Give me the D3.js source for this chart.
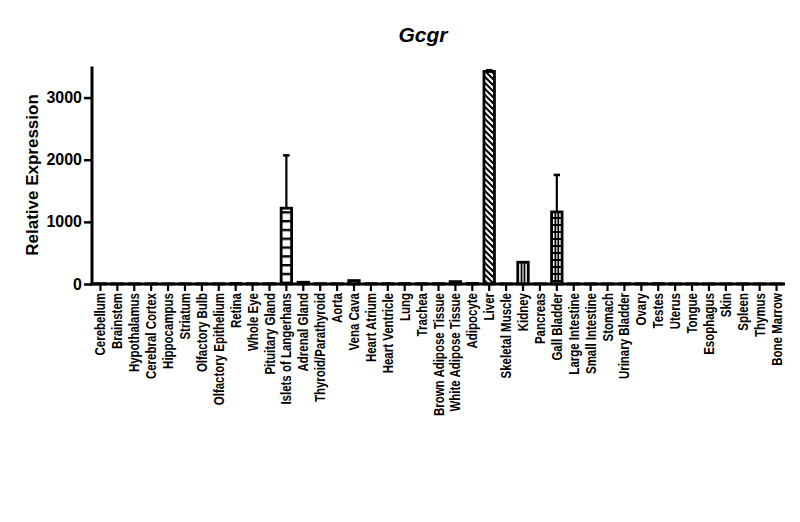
<!DOCTYPE html>
<html>
<head>
<meta charset="utf-8">
<script src="https://cdn.jsdelivr.net/npm/d3@7"></script>
<style>
  body { margin: 0; background: #fff; }
  svg { display: block; font-family: "Liberation Sans", Arial, sans-serif; }
</style>
</head>
<body>
<svg id="chart" width="800" height="522"></svg>
<script>
const categories = ["Cerebellum","Brainstem","Hypothalamus","Cerebral Cortex","Hippocampus","Striatum","Olfactory Bulb","Olfactory Epithelium","Retina","Whole Eye","Pituitary Gland","Islets of Langerhans","Adrenal Gland","Thyroid/Parathyroid","Aorta","Vena Cava","Heart Atrium","Heart Ventricle","Lung","Trachea","Brown Adipose Tissue","White Adipose Tissue","Adipocyte","Liver","Skeletal Muscle","Kidney","Pancreas","Gall Bladder","Large Intestine","Small Intestine","Stomach","Urinary Bladder","Ovary","Testes","Uterus","Tongue","Esophagus","Skin","Spleen","Thymus","Bone Marrow"];
const values = [4,3,3,3,3,3,3,3,8,4,5,1220,28,5,4,55,5,5,6,5,5,38,8,3420,3,350,3,1160,3,3,3,5,4,6,3,3,3,3,3,3,3];
const errors = [0,0,0,0,0,0,0,0,0,0,0,850,0,0,0,0,0,0,0,0,0,0,0,20,0,0,0,595,0,0,0,0,0,0,0,0,0,0,0,0,0];
const yTicks = [0,1000,2000,3000];
const title = "Gcgr";
const yLabel = "Relative Expression";

const patternOf = {"Islets of Langerhans":"hlines","Liver":"diag","Kidney":"vline","Gall Bladder":"grid","Vena Cava":"dots"};

(function(){
const svg = d3.select("#chart");
const mLeft = 92, mRight = 785, mTop = 66.5, mBottom = 284;

const x = d3.scaleBand().domain(categories).range([mLeft, mRight]).paddingInner(0.38).paddingOuter(0.19);
const y = d3.scaleLinear().domain([0, 3500]).range([mBottom, mTop]);

// patterns
const defs = svg.append("defs");
const bw = x.bandwidth();
const ph = defs.append("pattern").attr("id","hlines").attr("patternUnits","userSpaceOnUse").attr("width",20).attr("height",8.8);
ph.append("rect").attr("width",20).attr("height",8.8).attr("fill","#fff");
ph.append("rect").attr("y",0).attr("width",20).attr("height",2.4).attr("fill","#000");

const pd = defs.append("pattern").attr("id","diag").attr("patternUnits","userSpaceOnUse").attr("width",6).attr("height",6);
pd.append("rect").attr("width",6).attr("height",6).attr("fill","#fff");
pd.append("path").attr("d","M-1,-1 L7,7 M-4,2 L2,8 M4,-2 L8,2").attr("stroke","#000").attr("stroke-width",2);

const pv = defs.append("pattern").attr("id","vline").attr("patternUnits","userSpaceOnUse").attr("width",20).attr("height",20);
pv.append("rect").attr("width",20).attr("height",20).attr("fill","#fff");

const pg = defs.append("pattern").attr("id","grid").attr("patternUnits","userSpaceOnUse").attr("width",20).attr("height",7);
pg.append("rect").attr("width",20).attr("height",7).attr("fill","#fff");
pg.append("rect").attr("y",0).attr("width",20).attr("height",2).attr("fill","#000");

const pdots = defs.append("pattern").attr("id","dots").attr("patternUnits","userSpaceOnUse").attr("width",3).attr("height",3);
pdots.append("rect").attr("width",3).attr("height",3).attr("fill","#fff");
pdots.append("rect").attr("width",1.5).attr("height",1.5).attr("fill","#000");

const data = categories.map((c,i)=>({c, v: values[i], e: errors[i]}));

// error bars (one-sided, upward)
const eb = svg.append("g").attr("stroke","#000").attr("stroke-width",2.2);
data.filter(d=>d.e>0).forEach(d=>{
  const cx = x(d.c) + bw/2;
  eb.append("line").attr("x1",cx).attr("x2",cx).attr("y1",y(d.v)).attr("y2",y(d.v+d.e));
  eb.append("line").attr("x1",cx-3.2).attr("x2",cx+3.2).attr("y1",y(d.v+d.e)).attr("y2",y(d.v+d.e)).attr("stroke-width",2.6);
});

// bars
const bars = svg.append("g");
data.forEach(d=>{
  const pat = patternOf[d.c];
  const x0 = x(d.c), y0 = y(d.v), h = y(0) - y(d.v);
  bars.append("rect")
    .attr("x", x0).attr("y", y0).attr("width", bw).attr("height", h)
    .attr("fill", pat ? `url(#${pat})` : "#fff")
    .attr("stroke","#000").attr("stroke-width",2.8);
  if (pat === "vline" || pat === "grid") {
    [bw*0.36, bw*0.64].forEach(off=>{
      bars.append("line").attr("x1",x0+off).attr("x2",x0+off).attr("y1",y0).attr("y2",y(0))
        .attr("stroke","#000").attr("stroke-width",1.8);
    });
  }
});

// y axis
const yAxis = svg.append("g").attr("transform",`translate(${mLeft},0)`)
  .call(d3.axisLeft(y).tickValues(yTicks).tickFormat(d3.format("d")).tickSize(8).tickPadding(2).tickSizeOuter(0));
yAxis.select(".domain").attr("stroke","#000").attr("stroke-width",3).attr("d",`M0,${mTop}V${mBottom+1.5}`);
yAxis.selectAll(".tick line").attr("stroke","#000").attr("stroke-width",2.5);
yAxis.selectAll(".tick text").attr("font-size",16).attr("font-weight","bold").attr("fill","#000")
  .attr("font-family","'Liberation Sans', Arial, sans-serif");

// x axis
const sx = 0.82;
const xAxis = svg.append("g").attr("transform",`translate(0,${mBottom})`)
  .call(d3.axisBottom(x).tickSize(7).tickPadding(3).tickSizeOuter(0));
xAxis.select(".domain").attr("stroke","#000").attr("stroke-width",3).attr("d",`M${mLeft-1.5},0H${mRight}`);
xAxis.selectAll(".tick line").attr("stroke","#000").attr("stroke-width",2.2);
xAxis.selectAll(".tick text")
  .attr("font-size",14).attr("font-weight","bold").attr("fill","#000")
  .attr("font-family","'Liberation Sans', Arial, sans-serif")
  .attr("transform",`rotate(-90) scale(${sx},1)`)
  .attr("text-anchor","end")
  .attr("x",-9/sx).attr("y",0).attr("dy","0.36em");

// title
svg.append("text").attr("x",423).attr("y",42).attr("text-anchor","middle")
  .attr("font-size",21).attr("font-weight","bold").attr("font-style","italic").text(title);

// y label
svg.append("text").attr("transform","translate(38,175) rotate(-90)").attr("text-anchor","middle")
  .attr("font-size",17).attr("font-weight","bold").text(yLabel);
})();
</script>
</body>
</html>
